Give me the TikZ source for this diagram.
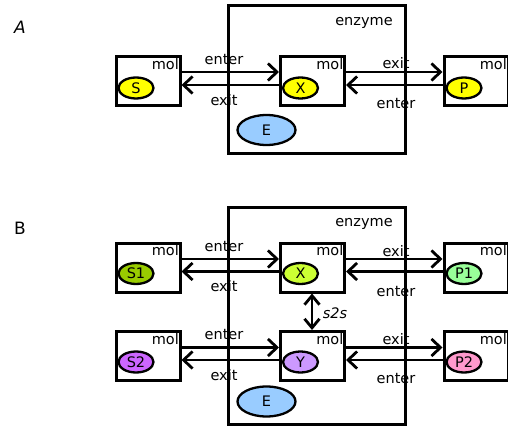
\documentclass[tikz,border=0pt]{standalone}
\usepackage{fontspec}
\setmainfont{DejaVu Sans}
\usetikzlibrary{arrows.meta,shapes.geometric}
\definecolor{cyel}{HTML}{FFFF00}
\definecolor{cs1}{HTML}{99CC00}
\definecolor{cx2}{HTML}{CCFF33}
\definecolor{cp1}{HTML}{99FF99}
\definecolor{cs2}{HTML}{CC66FF}
\definecolor{cy2}{HTML}{CC99FF}
\definecolor{cp2}{HTML}{FF99CC}
\definecolor{ce}{HTML}{99CCFF}
\begin{document}
\begin{tikzpicture}[x=1pt,y=-1pt,
  font=\fontsize{14.5pt}{17pt}\selectfont,
  enzbox/.style={draw,line width=3pt,fill=white},
  molbox/.style={draw,line width=3pt,fill=white,minimum width=64pt,minimum height=49pt,inner sep=0pt},
  mol/.style={draw,line width=2.3pt,ellipse,minimum width=35pt,minimum height=21pt,inner sep=0pt},
  enz/.style={draw,line width=2.3pt,ellipse,minimum width=58pt,minimum height=30pt,inner sep=0pt,fill=ce},
  arr/.style={line width=2.8pt,-{Straight Barb[length=9pt,width=17pt,line width=2.8pt]}},
  darr/.style={line width=2.8pt,{Straight Barb[length=9pt,width=15pt,line width=2.8pt]}-{Straight Barb[length=9pt,width=15pt,line width=2.8pt]}},
  lbl/.style={inner sep=1pt},
  moltxt/.style={anchor=north east,inner xsep=2.5pt,inner ysep=3pt}
]
\useasboundingbox (0,0) rectangle (508,430);
\node at (20,27) {\fontsize{17pt}{19pt}\selectfont\itshape A};
\node at (20,228) {\fontsize{17pt}{19pt}\selectfont B};

% ---------------- Panel A
\draw[enzbox] (228,6) rectangle (405,154);
\node (enzA) at (364,23) {enzyme};
\node[enz] (EA) at (266.5,130) {E};
\node[molbox] (SA) at (148,81.5) {};
\node[molbox] (XA) at (312.5,81.5) {};
\node[molbox] (PA) at (476,81.5) {};
\foreach \b/\t/\c in {SA/S/cyel,XA/X/cyel,PA/P/cyel}{
  \node[mol,fill=\c] (\b e) at ([xshift=-12pt,yshift=-6.5pt]\b.center) {\t};
  \node[moltxt] at (\b.north east) {mol};
}
\draw[arr] ([yshift=9.5pt]SA.east) -- ([yshift=9.5pt]XA.west);
\draw[arr] ([yshift=-3.5pt]XA.west) -- ([yshift=-3.5pt]SA.east);
\draw[arr] ([yshift=9.5pt]XA.east) -- ([yshift=9.5pt]PA.west);
\draw[arr] ([yshift=-3.5pt]PA.west) -- ([yshift=-3.5pt]XA.east);
\node[lbl] at (224,60) {enter};
\node[lbl] at (224,100) {exit};
\node[lbl] at (396,63) {exit};
\node[lbl] at (396,104) {enter};

% ---------------- Panel B
\draw[enzbox] (228,208) rectangle (405,424);
\node (enzB) at (364,224) {enzyme};
\node[enz] (EB) at (266.5,401.5) {E};
\node[molbox] (S1) at (148,267.5) {};
\node[molbox] (XB) at (312.5,267.5) {};
\node[molbox] (P1) at (476,267.5) {};
\node[molbox] (S2) at (148,356) {};
\node[molbox] (YB) at (312.5,356) {};
\node[molbox] (P2) at (476,356) {};
\foreach \b/\t/\c in {S1/S1/cs1,XB/X/cx2,P1/P1/cp1,S2/S2/cs2,YB/Y/cy2,P2/P2/cp2}{
  \node[mol,fill=\c] (\b e) at ([xshift=-12pt,yshift=-6pt]\b.center) {\t};
  \node[moltxt] at (\b.north east) {mol};
}
\foreach \l/\m/\r in {S1/XB/P1,S2/YB/P2}{
  \draw[arr] ([yshift=8.5pt]\l.east) -- ([yshift=8.5pt]\m.west);
  \draw[arr] ([yshift=-4pt]\m.west) -- ([yshift=-4pt]\l.east);
  \draw[arr] ([yshift=8.5pt]\m.east) -- ([yshift=8.5pt]\r.west);
  \draw[arr] ([yshift=-4pt]\r.west) -- ([yshift=-4pt]\m.east);
}
\draw[darr] ([xshift=-0.5pt]XB.south) -- ([xshift=-0.5pt]YB.north);
\node[lbl] at (335,313) {\itshape s2s};
\node[lbl] at (224,246.5) {enter};
\node[lbl] at (224,286.5) {exit};
\node[lbl] at (396,251) {exit};
\node[lbl] at (396,291.5) {enter};
\node[lbl] at (224,335) {enter};
\node[lbl] at (224,375) {exit};
\node[lbl] at (396,339) {exit};
\node[lbl] at (396,379) {enter};
\end{tikzpicture}
\end{document}
